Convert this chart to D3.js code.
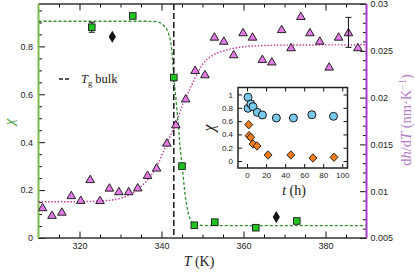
<!DOCTYPE html>
<html><head><meta charset="utf-8">
<script src="https://cdn.jsdelivr.net/npm/d3@7"></script>
<style>
body{margin:0;background:#fff;}
svg{display:block;}
text{font-family:"Liberation Sans",Arial,sans-serif;}
.serif{font-family:"Liberation Serif","DejaVu Serif",serif;}
</style></head>
<body>
<svg id="chart" width="415" height="274"></svg>
<script>
// ---- data ----
const chiT   = [323, 333, 343, 345, 348, 353, 363, 373];
const chiVal = [0.88, 0.927, 0.67, 0.30, 0.053, 0.066, 0.043, 0.071];
const chiErr = [0.021, 0, 0, 0, 0, 0, 0, 0];

const bulkT   = [328, 368];
const bulkChi = [0.84, 0.088];

const dhT = [311, 313.3, 315.7, 318, 320.3, 322.6, 325, 327.3, 329.6, 332, 334.2,
             336.6, 338.8, 341.3, 343.5, 345.9, 348.2, 350.6, 352.9, 355.2, 357.6,
             359.9, 362.2, 364.6, 366.9, 369.3, 371.6, 374, 376.2, 378.6, 380.9,
             383.2, 385.6, 387.9];
const dhVal = [0.00828, 0.00746, 0.00780, 0.00957, 0.00906, 0.01128, 0.00904, 0.01037, 0.00999, 0.00999, 0.01039,
               0.01173, 0.01251, 0.01518, 0.01714, 0.01990, 0.02294, 0.02248, 0.02650, 0.02606, 0.02462,
               0.02697, 0.02650, 0.02412, 0.02385, 0.02731, 0.02537, 0.02871, 0.02697, 0.02607, 0.02330,
               0.02650, 0.02697, 0.02537];
const dhErrT = [385.6];
const dhErrV = [0.02697];
const dhErr  = [0.0016];

const chiFitT = [310, 336, 338.8, 340.4, 341.7, 342.5, 343.0, 343.5, 344.1, 344.7, 345.1, 345.7, 346.5, 347.4, 348.6, 351, 360, 390];
const chiFitV = [0.905, 0.905, 0.903, 0.889, 0.855, 0.785, 0.671, 0.585, 0.47, 0.35, 0.29, 0.19, 0.105, 0.068, 0.055, 0.052, 0.052, 0.052];

const dhFitT = [310, 318, 325, 329.7, 333.8, 336.2, 338.8, 341.3, 343.5, 345.3, 346.5, 347.8, 350.2, 352.6, 355.9, 360, 364, 369, 380, 390];
const dhFitV = [0.00888, 0.00888, 0.00895, 0.00921, 0.01005, 0.01101, 0.01261, 0.01511, 0.01722, 0.0194, 0.0205, 0.02175, 0.02366, 0.02454, 0.02508, 0.02543, 0.02554, 0.02560, 0.02563, 0.02564];

const tgBulk = 343;

const insetT1   = [1, 1, 4, 6.3, 10.8, 16.1, 30.8, 48.7, 68.1, 90.8];
const insetChi1 = [0.958, 0.792, 0.857, 0.817, 0.732, 0.692, 0.647, 0.647, 0.696, 0.672];
const insetT2   = [1.8, 2.1, 3.9, 6.3, 10.5, 22.1, 46, 69.2, 91.3];
const insetChi2 = [0.546, 0.380, 0.356, 0.256, 0.226, 0.090, 0.090, 0.045, 0.056];

const xTicks = [320, 340, 360, 380];
const xTickLabels = ["320", "340", "360", "380"];
const chiTicks = [0, 0.2, 0.4, 0.6, 0.8];
const chiTickLabels = ["0", "0.2", "0.4", "0.6", "0.8"];
const dhTicks = [0.005, 0.01, 0.015, 0.02, 0.025, 0.03];
const dhTickLabels = ["0.005", "0.01", "0.015", "0.02", "0.025", "0.03"];
const inXTicks = [0, 20, 40, 60, 80, 100];
const inXTickLabels = ["0", "20", "40", "60", "80", "100"];
const inYTicks = [0, 0.2, 0.4, 0.6, 0.8, 1];
const inYTickLabels = ["0", "0.2", "0.4", "0.6", "0.8", "1"];

// ---- layout ----
const L = 38.5, R = 366.5, T = 4, B = 238;
const svg = d3.select("#chart");
const x = d3.scaleLinear().domain([310, 390]).range([L, R]);
const yC = d3.scaleLinear().domain([0, 0.977]).range([B, T]);
const yD = d3.scaleLinear().domain([0.005, 0.03]).range([B, T]);

svg.append("clipPath").attr("id", "clip").append("rect")
  .attr("x", L).attr("y", T).attr("width", R - L).attr("height", B - T);

function styleAxis(g, fs) {
  g.select(".domain").remove();
  g.selectAll(".tick line").attr("stroke", "#111").attr("stroke-width", 1);
  g.selectAll(".tick text").attr("fill", "#222").style("font-size", fs + "px")
    .style("font-family", '"Liberation Sans",Arial,sans-serif');
}
function fmt(ticks, labels) { return d => labels[ticks.indexOf(d)]; }

// minor ticks
const xMinor = d3.range(315, 390, 5).filter(v => !xTicks.includes(v));
const cMinor = d3.range(1, 20).map(i => i * 0.05).filter(v => !chiTicks.some(t => Math.abs(t - v) < 1e-6));
const dMinor = d3.range(6, 30).map(i => i * 0.001).filter(v => !dhTicks.some(t => Math.abs(t - v) < 1e-7));

styleAxis(svg.append("g").attr("transform", `translate(0,${B})`)
  .call(d3.axisBottom(x).tickValues(xMinor).tickSize(-3.5).tickFormat("")), 9);
styleAxis(svg.append("g").attr("transform", `translate(0,${B})`)
  .call(d3.axisBottom(x).tickValues(xTicks).tickSize(-6.5).tickPadding(5).tickFormat(fmt(xTicks, xTickLabels))), 9);
styleAxis(svg.append("g").attr("transform", `translate(0,${T})`)
  .call(d3.axisTop(x).tickValues(xMinor).tickSize(-3.5).tickFormat("")), 9);
styleAxis(svg.append("g").attr("transform", `translate(0,${T})`)
  .call(d3.axisTop(x).tickValues(xTicks).tickSize(-6.5).tickFormat("")), 9);

styleAxis(svg.append("g").attr("transform", `translate(${L},0)`)
  .call(d3.axisLeft(yC).tickValues(cMinor).tickSize(-3.5).tickFormat("")), 9);
styleAxis(svg.append("g").attr("transform", `translate(${L},0)`)
  .call(d3.axisLeft(yC).tickValues(chiTicks).tickSize(-6.5).tickPadding(5.5).tickFormat(fmt(chiTicks, chiTickLabels))), 9);
styleAxis(svg.append("g").attr("transform", `translate(${R},0)`)
  .call(d3.axisRight(yD).tickValues(dMinor).tickSize(-3.5).tickFormat("")), 9);
styleAxis(svg.append("g").attr("transform", `translate(${R},0)`)
  .call(d3.axisRight(yD).tickValues(dhTicks).tickSize(-6.5).tickPadding(4).tickFormat(fmt(dhTicks, dhTickLabels))), 9);

// spines
svg.append("line").attr("x1", L).attr("x2", R).attr("y1", B).attr("y2", B).attr("stroke", "#333").attr("stroke-width", 1.6);
svg.append("line").attr("x1", L).attr("x2", R).attr("y1", T).attr("y2", T).attr("stroke", "#333").attr("stroke-width", 1.6);
svg.append("line").attr("x1", L).attr("x2", L).attr("y1", T).attr("y2", B).attr("stroke", "#7cbb4c").attr("stroke-width", 2);
svg.append("line").attr("x1", R).attr("x2", R).attr("y1", T).attr("y2", B).attr("stroke", "#a63ccb").attr("stroke-width", 2);

const plot = svg.append("g").attr("clip-path", "url(#clip)");

// fits
plot.append("path")
  .datum(dhFitT.map((t, i) => [t, dhFitV[i]]))
  .attr("d", d3.line().x(d => x(d[0])).y(d => yD(d[1])).curve(d3.curveMonotoneX))
  .attr("fill", "none").attr("stroke", "#c22f98").attr("stroke-width", 1.4).attr("stroke-dasharray", "1.4,1.8");
plot.append("path")
  .datum(chiFitT.map((t, i) => [t, chiFitV[i]]))
  .attr("d", d3.line().x(d => x(d[0])).y(d => yC(d[1])).curve(d3.curveMonotoneX))
  .attr("fill", "none").attr("stroke", "#2e8f2e").attr("stroke-width", 1.3).attr("stroke-dasharray", "3,2");

// Tg bulk line
plot.append("line").attr("x1", x(tgBulk)).attr("x2", x(tgBulk)).attr("y1", T).attr("y2", B)
  .attr("stroke", "#222").attr("stroke-width", 1.6).attr("stroke-dasharray", "6,3");

// triangles
plot.selectAll(".tri").data(dhT.map((t, i) => [t, dhVal[i]])).join("path")
  .attr("transform", d => `translate(${x(d[0])},${yD(d[1])})`)
  .attr("d", "M0,-4L4.3,3.4L-4.3,3.4Z")
  .attr("fill", "#e47ae6").attr("stroke", "#222").attr("stroke-width", 1);

// error bars
function errBar(g, cx, y1, y2, cap) {
  g.append("line").attr("x1", cx).attr("x2", cx).attr("y1", y1).attr("y2", y2).attr("stroke", "#111").attr("stroke-width", 1);
  g.append("line").attr("x1", cx - cap).attr("x2", cx + cap).attr("y1", y1).attr("y2", y1).attr("stroke", "#111").attr("stroke-width", 1);
  g.append("line").attr("x1", cx - cap).attr("x2", cx + cap).attr("y1", y2).attr("y2", y2).attr("stroke", "#111").attr("stroke-width", 1);
}
dhErrT.forEach((t, i) => errBar(svg, x(t), yD(dhErrV[i] + dhErr[i]), yD(dhErrV[i] - dhErr[i]), 3));
chiT.forEach((t, i) => { if (chiErr[i] > 0) errBar(svg, x(t), yC(chiVal[i] + chiErr[i]), yC(chiVal[i] - chiErr[i]), 3); });

// squares
svg.selectAll(".sq").data(chiT.map((t, i) => [t, chiVal[i]])).join("rect")
  .attr("x", d => x(d[0]) - 3.3).attr("y", d => yC(d[1]) - 3.3)
  .attr("width", 6.6).attr("height", 6.6)
  .attr("fill", "#1fc41f").attr("stroke", "#1a1a1a").attr("stroke-width", 0.9);

// bulk diamonds
svg.selectAll(".bd").data(bulkT.map((t, i) => [t, bulkChi[i]])).join("path")
  .attr("transform", d => `translate(${x(d[0])},${yC(d[1])})`)
  .attr("d", "M0,-6L3.6,0L0,6L-3.6,0Z").attr("fill", "#111");

// legend
svg.append("line").attr("x1", 59).attr("x2", 69).attr("y1", 79).attr("y2", 79)
  .attr("stroke", "#222").attr("stroke-width", 1.6).attr("stroke-dasharray", "4,2");
const lg = svg.append("text").attr("class", "serif").attr("x", 81).attr("y", 83)
  .style("font-size", "12.5px").attr("fill", "#222");
lg.append("tspan").style("font-style", "italic").text("T");
lg.append("tspan").attr("dy", 3).style("font-size", "8.5px").text("g");
lg.append("tspan").attr("dy", -3).text(" bulk");

// axis labels
svg.append("text").attr("class", "serif").attr("transform", "translate(9,122) rotate(-90)")
  .attr("text-anchor", "middle").attr("dominant-baseline", "central")
  .style("font-size", "15px").style("font-style", "italic")
  .attr("fill", "#3c9f3c").text("χ");
const xl = svg.append("text").attr("class", "serif").attr("x", 199).attr("y", 266)
  .attr("text-anchor", "middle").style("font-size", "14px").attr("fill", "#222");
xl.append("tspan").style("font-style", "italic").text("T");
xl.append("tspan").text(" (K)");
const yl = svg.append("text").attr("class", "serif").attr("transform", "translate(411,120) rotate(-90)")
  .attr("text-anchor", "middle").style("font-size", "14.5px").attr("fill", "#b57ac9");
yl.append("tspan").text("d");
yl.append("tspan").style("font-style", "italic").text("h");
yl.append("tspan").text("/d");
yl.append("tspan").style("font-style", "italic").text("T");
yl.append("tspan").text("  (nm·K");
yl.append("tspan").attr("dy", -5).style("font-size", "10px").text("−1");
yl.append("tspan").attr("dy", 5).text(")");

// ---- inset ----
const iL = 238, iR = 347.5, iT = 87.5, iB = 168;
const ix = d3.scaleLinear().domain([-9.5, 105.5]).range([iL, iR]);
const iy = d3.scaleLinear().domain([-0.105, 1.105]).range([iB, iT]);
const ins = svg.append("g");
ins.append("rect").attr("x", iL).attr("y", iT).attr("width", iR - iL).attr("height", iB - iT).attr("fill", "#fff");

styleAxis(ins.append("g").attr("transform", `translate(0,${iB})`)
  .call(d3.axisBottom(ix).tickValues(inXTicks).tickSize(-4).tickPadding(4).tickFormat(fmt(inXTicks, inXTickLabels))), 8);
styleAxis(ins.append("g").attr("transform", `translate(0,${iT})`)
  .call(d3.axisTop(ix).tickValues(inXTicks).tickSize(-4).tickFormat("")), 8);
styleAxis(ins.append("g").attr("transform", `translate(${iL},0)`)
  .call(d3.axisLeft(iy).tickValues(inYTicks).tickSize(-4).tickPadding(5).tickFormat(fmt(inYTicks, inYTickLabels))), 8);
styleAxis(ins.append("g").attr("transform", `translate(${iR},0)`)
  .call(d3.axisRight(iy).tickValues(inYTicks).tickSize(-4).tickFormat("")), 8);
ins.append("rect").attr("x", iL).attr("y", iT).attr("width", iR - iL).attr("height", iB - iT)
  .attr("fill", "none").attr("stroke", "#222").attr("stroke-width", 1.5);

ins.selectAll(".c").data(insetT1.map((t, i) => [t, insetChi1[i]])).join("circle")
  .attr("cx", d => ix(d[0])).attr("cy", d => iy(d[1])).attr("r", 4)
  .attr("fill", "#78c9ee").attr("stroke", "#1a1a1a").attr("stroke-width", 1);
ins.selectAll(".od").data(insetT2.map((t, i) => [t, insetChi2[i]])).join("path")
  .attr("transform", d => `translate(${ix(d[0])},${iy(d[1])})`)
  .attr("d", "M0,-4.2L4,0L0,4.2L-4,0Z")
  .attr("fill", "#f07d1a").attr("stroke", "#1a1a1a").attr("stroke-width", 0.9);

const itl = ins.append("text").attr("class", "serif").attr("x", 294).attr("y", 195)
  .attr("text-anchor", "middle").style("font-size", "14px").attr("fill", "#222");
itl.append("tspan").style("font-style", "italic").text("t");
itl.append("tspan").text(" (h)");
ins.append("text").attr("class", "serif").attr("transform", "translate(214,128) rotate(-90)")
  .attr("text-anchor", "middle").style("font-size", "16px").style("font-style", "italic")
  .attr("fill", "#222").text("χ");
</script>
</body></html>
